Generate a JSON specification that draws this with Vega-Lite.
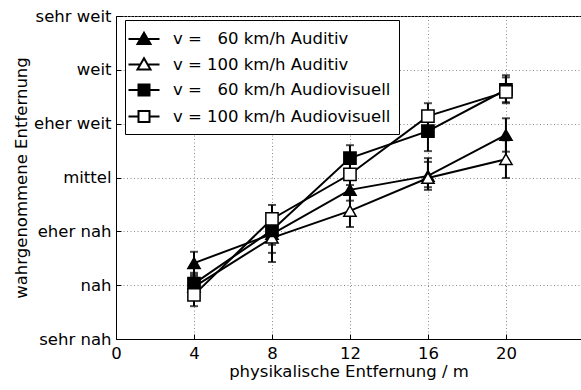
{
  "$schema": "https://vega.github.io/schema/vega-lite/v6.json",
  "width": 465,
  "height": 323,
  "autosize": "none",
  "padding": {"left": 116, "top": 16, "right": 0, "bottom": 51},
  "background": "white",
  "config": {
    "font": "DejaVu Sans",
    "view": {"stroke": "black", "strokeWidth": 1},
    "axis": {
      "domainColor": "black",
      "tickColor": "black",
      "tickSize": -5,
      "labelColor": "black",
      "labelFontSize": 16.5,
      "titleColor": "black",
      "titleFontSize": 16.5,
      "titleFontWeight": "normal",
      "grid": true,
      "gridColor": "#8c8c8c",
      "gridDash": [1, 2.5],
      "gridWidth": 1,
      "labelFlush": false,
      "labelOverlap": false,
      "labelBound": false
    }
  },
  "data": {
    "values": [
      {"x": 4, "y": 2.41, "lo": 2.2, "hi": 2.62, "s": "v = \u200760 km/h Auditiv"},
      {"x": 8, "y": 2.95, "lo": 2.75, "hi": 3.15, "s": "v = \u200760 km/h Auditiv"},
      {"x": 12, "y": 3.77, "lo": 3.57, "hi": 3.97, "s": "v = \u200760 km/h Auditiv"},
      {"x": 16, "y": 4.03, "lo": 3.77, "hi": 4.36, "s": "v = \u200760 km/h Auditiv"},
      {"x": 20, "y": 4.79, "lo": 4.48, "hi": 5.1, "s": "v = \u200760 km/h Auditiv"},
      {"x": 4, "y": 1.97, "lo": 1.77, "hi": 2.17, "s": "v = 100 km/h Auditiv"},
      {"x": 8, "y": 2.88, "lo": 2.43, "hi": 3.2, "s": "v = 100 km/h Auditiv"},
      {"x": 12, "y": 3.38, "lo": 3.08, "hi": 3.68, "s": "v = 100 km/h Auditiv"},
      {"x": 16, "y": 3.99, "lo": 3.82, "hi": 4.29, "s": "v = 100 km/h Auditiv"},
      {"x": 20, "y": 4.34, "lo": 3.99, "hi": 4.69, "s": "v = 100 km/h Auditiv"},
      {"x": 4, "y": 2.03, "lo": 1.83, "hi": 2.23, "s": "v = \u200760 km/h Audiovisuell"},
      {"x": 8, "y": 3.02, "lo": 2.6, "hi": 3.3, "s": "v = \u200760 km/h Audiovisuell"},
      {"x": 12, "y": 4.36, "lo": 4.12, "hi": 4.6, "s": "v = \u200760 km/h Audiovisuell"},
      {"x": 16, "y": 4.86, "lo": 4.49, "hi": 5.2, "s": "v = \u200760 km/h Audiovisuell"},
      {"x": 20, "y": 5.63, "lo": 5.4, "hi": 5.86, "s": "v = \u200760 km/h Audiovisuell"},
      {"x": 4, "y": 1.82, "lo": 1.61, "hi": 2.03, "s": "v = 100 km/h Audiovisuell"},
      {"x": 8, "y": 3.23, "lo": 2.97, "hi": 3.49, "s": "v = 100 km/h Audiovisuell"},
      {"x": 12, "y": 4.06, "lo": 3.86, "hi": 4.26, "s": "v = 100 km/h Audiovisuell"},
      {"x": 16, "y": 5.14, "lo": 4.9, "hi": 5.38, "s": "v = 100 km/h Audiovisuell"},
      {"x": 20, "y": 5.59, "lo": 5.38, "hi": 5.9, "s": "v = 100 km/h Audiovisuell"}
    ]
  },
  "encoding": {
    "x": {
      "field": "x",
      "type": "quantitative",
      "scale": {"domain": [0, 23.85], "nice": false, "zero": false},
      "axis": {"values": [0, 4, 8, 12, 16, 20], "title": "physikalische Entfernung / m", "labelPadding": 11, "titlePadding": 2}
    },
    "y": {
      "field": "y",
      "type": "quantitative",
      "scale": {"domain": [1, 7], "nice": false, "zero": false},
      "axis": {
        "values": [1, 2, 3, 4, 5, 6, 7],
        "labelExpr": "['', 'sehr nah', 'nah', 'eher nah', 'mittel', 'eher weit', 'weit', 'sehr weit'][datum.value]",
        "title": "wahrgenommene Entfernung",
        "labelPadding": 10,
        "titlePadding": 4
      }
    }
  },
  "layer": [
    {
      "mark": {"type": "line", "color": "black", "strokeWidth": 2},
      "encoding": {"detail": {"field": "s"}}
    },
    {
      "mark": {"type": "errorbar", "color": "black", "thickness": 2, "ticks": {"size": 8, "thickness": 2, "color": "black"}, "rule": {"strokeWidth": 2, "color": "black"}},
      "encoding": {
        "y": {"field": "lo", "type": "quantitative", "title": "wahrgenommene Entfernung"},
        "y2": {"field": "hi"},
        "detail": {"field": "s"}
      }
    },
    {
      "mark": {"type": "point", "filled": true, "stroke": "black", "strokeWidth": 1.5, "opacity": 1},
      "encoding": {
        "shape": {
          "field": "s",
          "scale": {"domain": ["v = \u200760 km/h Auditiv", "v = 100 km/h Auditiv", "v = \u200760 km/h Audiovisuell", "v = 100 km/h Audiovisuell"], "range": ["triangle-up", "triangle-up", "square", "square"]},
          "legend": null
        },
        "fill": {
          "field": "s",
          "scale": {"domain": ["v = \u200760 km/h Auditiv", "v = 100 km/h Auditiv", "v = \u200760 km/h Audiovisuell", "v = 100 km/h Audiovisuell"], "range": ["black", "white", "black", "white"]},
          "legend": null
        },
        "size": {"value": 150}
      }
    },
    {
      "mark": {"type": "point", "filled": true, "stroke": "black", "strokeWidth": 2, "opacity": 0},
      "encoding": {
        "shape": {
          "field": "s",
          "scale": {
            "domain": ["v = \u200760 km/h Auditiv", "v = 100 km/h Auditiv", "v = \u200760 km/h Audiovisuell", "v = 100 km/h Audiovisuell"],
            "range": [
              "M-1.55,0H-0.36M0.36,0H1.55M0,-0.62L0.65,0.5L-0.65,0.5Z",
              "M-1.55,0H-0.36M0.36,0H1.55M0,-0.62L0.65,0.5L-0.65,0.5Z",
              "M-1.55,0H-0.55M0.55,0H1.55M-0.55,-0.55H0.55V0.55H-0.55Z",
              "M-1.55,0H-0.55M0.55,0H1.55M-0.55,-0.55H0.55V0.55H-0.55Z"
            ]
          },
          "legend": {
            "title": null,
            "orient": "none",
            "legendX": 9,
            "legendY": 4,
            "fillColor": "white",
            "strokeColor": "black",
            "padding": 8,
            "symbolSize": 400,
            "symbolStrokeWidth": 2,
            "symbolStrokeColor": "black",
            "symbolOpacity": 1,
            "labelFontSize": 16.5,
            "labelColor": "black",
            "labelOffset": 18,
            "rowPadding": 5.5,
            "labelLimit": 400,
            "encode": {"symbols": {"update": {"stroke": {"value": "black"}, "strokeWidth": {"value": 2}, "opacity": {"value": 1}}}}
          }
        },
        "fill": {
          "field": "s",
          "scale": {"domain": ["v = \u200760 km/h Auditiv", "v = 100 km/h Auditiv", "v = \u200760 km/h Audiovisuell", "v = 100 km/h Audiovisuell"], "range": ["black", "white", "black", "white"]},
          "legend": {
            "title": null,
            "orient": "none",
            "legendX": 9,
            "legendY": 4,
            "fillColor": "white",
            "strokeColor": "black",
            "padding": 8,
            "symbolSize": 400,
            "symbolStrokeWidth": 2,
            "symbolStrokeColor": "black",
            "symbolOpacity": 1,
            "labelFontSize": 16.5,
            "labelColor": "black",
            "labelOffset": 18,
            "rowPadding": 5.5,
            "labelLimit": 400,
            "encode": {"symbols": {"update": {"stroke": {"value": "black"}, "strokeWidth": {"value": 2}, "opacity": {"value": 1}}}}
          }
        },
        "size": {"value": 400}
      }
    }
  ],
  "resolve": {
    "scale": {"shape": "independent", "fill": "independent"},
    "legend": {"shape": "independent", "fill": "independent"}
  }
}
